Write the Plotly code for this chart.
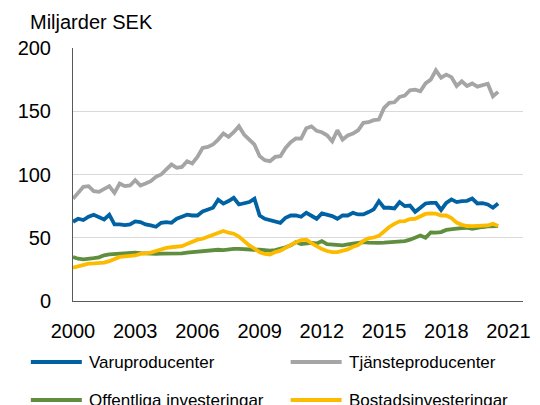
import plotly.graph_objects as go

# Quarterly data 2000Q1 .. 2020Q3, billion SEK
start_year = 2000
varuproducenter = [62.6, 65, 64, 66.6, 68.2, 66.6, 64.5, 68.2, 60.5, 60.5, 60, 60.5, 62.9, 62.4, 60.5, 59.7,
                   58.7, 61.8, 62.4, 61.8, 65, 66.6, 68.2, 67.6, 67.6, 70.8, 72.4, 73.7, 80, 77,
                   79, 81.6, 76.3, 77.1, 78.2, 80.8, 67.6, 65, 63.9, 63.2, 61.8, 65.8, 67.6, 67.6, 66.6,
                   69.7, 67.1, 65, 69.2, 68.4, 67.1, 65, 67.6, 67.6, 69.7, 68.4, 68.4, 70.3, 72.4,
                   78.9, 73.7, 73.7, 73.2, 78.2, 75, 75.5, 70.5, 73.7, 77.1, 77.6, 77.6, 72, 77.6,
                   80.3, 78.2, 78.9, 79.2, 81, 77.1, 77.3, 76.3, 73.7, 77.1]
tjansteproducenter = [80.8, 85.5, 90.3, 90.8, 86.8, 86.3, 88.2, 90.8, 85.5, 92.9, 90.8, 91.3, 95.5, 91.3, 92.9,
                      94.7, 98.2, 100, 104, 107.9, 105.3, 106, 110.5, 108.7, 113.9, 121, 121.8, 123.7, 127.6,
                      132.4, 129.7, 133.4, 138.2, 131.6, 127.6, 123.7, 114.5, 111.3, 110.5, 113.9, 114.5,
                      121, 125.5, 128.5, 128.4, 136.5, 138, 134.5, 133.4, 131, 126.3, 135, 127.6, 130.8,
                      132.4, 135, 140.8, 141.3, 142.9, 143.4, 152.6, 156.6, 157.1, 161.3, 162.4, 166.6,
                      167.1, 165.8, 172, 175, 182.4, 176.5, 179, 177, 170, 173.7, 170, 172, 169.5, 170.3,
                      171.8, 161.8, 165.3]
offentliga = [34.7, 33.4, 32.9, 33.7, 33.9, 34.5, 36.1, 36.8, 37.1, 37.8, 38.2, 38.5, 38.3, 37.8, 37.5, 37.2,
              37.3, 37.5, 37.4, 37.8, 37.9, 37.6, 38.3, 38.7, 38.5, 39.3, 39.5, 40.3, 40.5, 40.2, 40.8,
              41.2, 41.2, 40.8, 40.5, 40.5, 40.6, 40.2, 39.8, 40.2, 41, 42.5, 44, 46.6, 45, 45.5, 46,
              45.5, 47.4, 45, 44.7, 44.5, 44, 44.7, 45.5, 46.3, 46.6, 46.2, 45.8, 46, 46.2, 46.4, 46.6,
              47, 47.4, 48.5, 50, 51.8, 50, 54.2, 54, 54.5, 56.2, 57, 57.2, 57.6, 57.9, 57, 58, 58.5,
              59, 59.2, 59.2]
bostads = [26.3, 27.6, 28.9, 29.5, 29.7, 29.8, 30.3, 31.5, 33, 34.8, 35.3, 35.5, 36, 37.3, 37.6, 38.2, 39.5,
           41, 42, 42.5, 42.8, 43.3, 45, 46.6, 48.5, 49.2, 50.8, 52.6, 54.5, 55.3, 54, 53.2, 51, 47.5,
           44, 41.5, 38.5, 37.2, 36.8, 38.7, 39.8, 42, 44.5, 46.5, 48.2, 48.5, 45.8, 43.2, 41, 39.5,
           38.7, 38.7, 39.5, 40.8, 42.9, 44.2, 47.5, 49.5, 50.2, 51.5, 55, 58.5, 61, 63, 63.2, 64.8,
           65, 67, 68.8, 69.2, 69, 67.6, 67.6, 65.5, 62, 60.2, 59.3, 59.2, 59.2, 59.3, 59.7, 61, 59.3]

series_names = ["Varuproducenter", "Tjänsteproducenter", "Offentliga investeringar", "Bostadsinvesteringar"]
series_values = [varuproducenter, tjansteproducenter, offentliga, bostads]
series_colors = ["#0062A3", "#A5A5A5", "#5E8E3E", "#FDBB00"]

tick_years = [2000, 2003, 2006, 2009, 2012, 2015, 2018, 2021]
y_ticks = [0, 50, 100, 150, 200]

n = len(varuproducenter)
x = [start_year + i / 4 for i in range(n)]

FONT = "Liberation Sans, Arial, Helvetica, sans-serif"
OFF = 8  # page body margin
W, H = 532, 397
ML, MR, MT, MB = 63, 10, 40, 104
PW, PH = W - ML - MR, H - MT - MB

fig = go.Figure()
for name, vals, col in zip(series_names, series_values, series_colors):
    fig.add_trace(go.Scatter(x=x, y=vals, mode="lines", name=name,
                             line=dict(color=col, width=3.8), showlegend=False))

fig.update_layout(
    width=W, height=H,
    margin=dict(l=ML, r=MR, t=MT, b=MB),
    plot_bgcolor="white", paper_bgcolor="white",
    font=dict(family=FONT, size=20, color="black"),
    xaxis=dict(range=[2000, 2021.7], tickvals=tick_years, ticktext=[str(t) for t in tick_years],
               showgrid=False, showline=True, linecolor="#595959", linewidth=1,
               ticks="", ticklabelstandoff=12, zeroline=False,
               tickfont=dict(size=20, family=FONT)),
    yaxis=dict(range=[0, 200], tickvals=y_ticks, showgrid=True, gridcolor="#D9D9D9", gridwidth=1,
               showline=True, linecolor="#595959", linewidth=1, zeroline=False,
               ticks="", ticklabelstandoff=17, tickfont=dict(size=20, family=FONT)),
)


def px_x(X):
    return (X - OFF - ML) / PW


def px_y(Y):
    return (MT + PH - (Y - OFF)) / PH


fig.add_annotation(text="Miljarder SEK", xref="paper", yref="paper",
                   x=px_x(25), y=px_y(22), xanchor="left", yanchor="middle",
                   showarrow=False, font=dict(size=20, family=FONT, color="black"))

# manual legend (two columns)
legend_pos = [(28, 362), (293, 362), (28, 400), (293, 400)]
for (lx, ly), name, col in zip(legend_pos, series_names, series_colors):
    fig.add_shape(type="line", xref="paper", yref="paper",
                  x0=px_x(lx), x1=px_x(lx + 52), y0=px_y(ly), y1=px_y(ly),
                  line=dict(color=col, width=4))
    fig.add_annotation(text=name, xref="paper", yref="paper", x=px_x(lx + 57), y=px_y(ly),
                       xanchor="left", yanchor="middle", showarrow=False,
                       font=dict(size=17, family=FONT, color="black"))

fig.write_html("out.html")
